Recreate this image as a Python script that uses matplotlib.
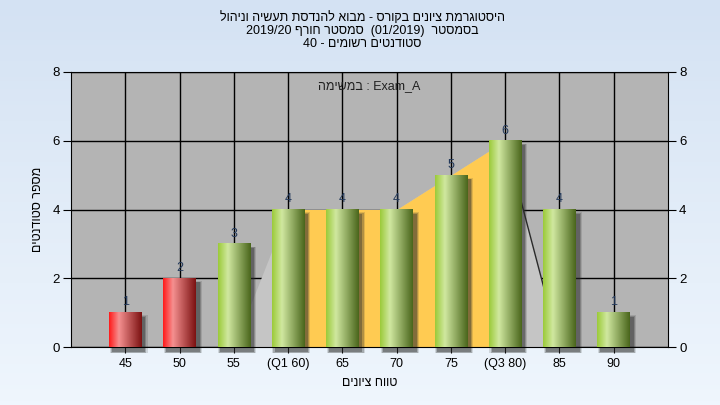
import numpy as np
import matplotlib
matplotlib.use("Agg")
import matplotlib.pyplot as plt
from matplotlib.colors import to_rgb
from matplotlib.patches import Rectangle

plt.rcParams['font.family'] = ['Liberation Sans', 'DejaVu Sans']

# data
grades = ['45', '50', '55', '(Q1 60)', '65', '70', '75', '(Q3 80)', '85', '90']
counts = [1, 2, 3, 4, 4, 4, 5, 6, 4, 1]
failing = [True, True, False, False, False, False, False, False, False, False]
q1_idx = 3
q3_idx = 7

# hebrew strings are stored in visual (left-to-right) order, since matplotlib has no bidi
title_lines = ['לוהינו הישעת תסדנהל אובמ - סרוקב םינויצ תמרגוטסיה',
               '2019/20 ףרוח רטסמס  (01/2019)  רטסמסב',
               '40 - םימושר םיטנדוטס']
ylabel = 'םיטנדוטס רפסמ'
xlabel = 'םינויצ חווט'
note = 'המישמב : Exam_A'


def gradient(c_left, c_high, c_right, n=64):
    a, b, c = np.array(to_rgb(c_left)), np.array(to_rgb(c_high)), np.array(to_rgb(c_right))
    t = np.linspace(0, 1, n)
    out = np.zeros((1, n, 3))
    for i, v in enumerate(t):
        if v < 0.3:
            out[0, i] = a + (b - a) * (v / 0.3)
        else:
            out[0, i] = b + (c - b) * ((v - 0.3) / 0.7)
    return out


green = gradient('#9ccb3a', '#d0e8a0', '#4a661c')
red = gradient('#ff1c1c', '#f59090', '#7c1212')

fig = plt.figure(figsize=(7.2, 4.05), dpi=100)

# page background
bg = fig.add_axes([0, 0, 1, 1], zorder=-10)
top, bot = np.array(to_rgb('#d4e2f3')), np.array(to_rgb('#eff6fd'))
bg.imshow(np.linspace(0, 1, 100)[:, None, None] * (bot - top) + top, aspect='auto', extent=(0, 1, 0, 1))
bg.axis('off')

ax = fig.add_axes([71 / 720, 1 - 347 / 405, (668 - 71) / 720, (347 - 72) / 405])
ax.set_facecolor('#b4b4b4')
x = np.arange(len(counts))

# quartile areas
area = [c if q1_idx <= i <= q3_idx else 0 for i, c in enumerate(counts)]
ax.fill_between(x[q1_idx - 1:q3_idx + 2], area[q1_idx - 1:q3_idx + 2], color='#c5c5c5', lw=0, zorder=1)
ax.fill_between(x[q1_idx:q3_idx + 1], area[q1_idx:q3_idx + 1], color='#ffcb52', lw=0, zorder=1.5)
ax.plot(x[q3_idx:q3_idx + 2], area[q3_idx:q3_idx + 2], color='#2a2a2a', lw=1, zorder=1.6)

w = 0.6
for xi, c, f in zip(x, counts, failing):
    # soft shadow, a few stacked translucent layers
    for d, a in [(0.05, 0.15), (0.03, 0.25), (0.01, 0.35)]:
        ax.add_patch(Rectangle((xi - w / 2 + 0.06 - d, -0.13 - d), w + 2 * d, c + 2 * d,
                               color='#2a2a2a', alpha=a, lw=0, zorder=2, clip_on=False))
    ax.imshow(red if f else green, extent=(xi - w / 2, xi + w / 2, 0, c), aspect='auto',
              interpolation='bilinear', zorder=3)
    ax.annotate(str(c), (xi, c), xytext=(0, 3), textcoords='offset points', ha='center', va='bottom',
                fontsize=9, color='#23395b', zorder=4)

ax.set_xlim(-1, 10)
ax.set_ylim(0, 8)
ax.set_xticks(x)
ax.set_xticklabels(grades)
ax.set_yticks([0, 2, 4, 6, 8])
ax.grid(True, color='black', lw=1)
ax.set_axisbelow(True)
ax.tick_params(axis='y', right=True, labelright=True, length=6, labelsize=9.5, colors='black', pad=2)
ax.tick_params(axis='x', length=4, labelsize=9, pad=4)
for s in ax.spines.values():
    s.set_color('black')

ax.set_xlabel(xlabel, fontsize=9, labelpad=5)
ax.set_ylabel(ylabel, fontsize=9, labelpad=6)
ax.text(4.5, 7.6, note, ha='center', va='center', fontsize=9, color='#202020', zorder=5)

for i, line in enumerate(title_lines):
    fig.text(0.503, 1 - (18 + 13 * i) / 405, line, ha='center', va='center', fontsize=9)

fig.savefig('out.png', dpi=100)
